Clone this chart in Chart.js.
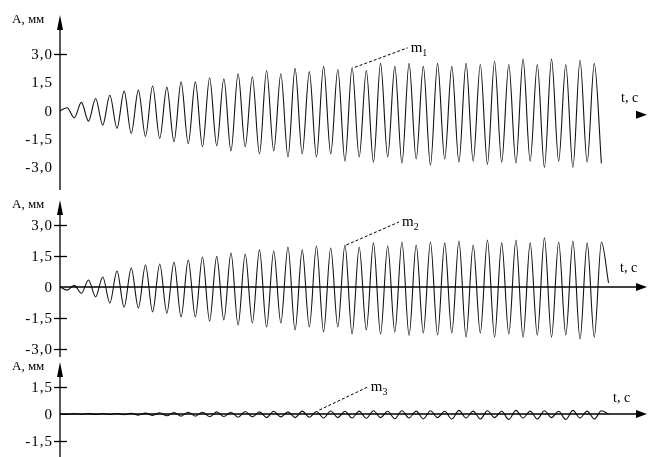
<!DOCTYPE html>
<html>
<head>
<meta charset="utf-8">
<script src="https://cdn.jsdelivr.net/npm/chart.js@4.4.1/dist/chart.umd.min.js"></script>
<style>
  html, body { margin: 0; padding: 0; background: #fff; }
  #wrap { position: relative; width: 648px; height: 457px; overflow: hidden; }
  canvas { position: absolute; left: 0; }
</style>
</head>
<body>
<div id="wrap">
  <canvas id="g1" width="648" height="190" style="top:0px"></canvas>
  <canvas id="g2" width="648" height="167" style="top:190px"></canvas>
  <canvas id="g3" width="648" height="100" style="top:357px"></canvas>
</div>
<script>
// шаг по времени между соседними экстремумами
const T_STEP = 0.05;

// m1: максимумы и минимумы колебаний
const peaks1 = [0.16, 0.44, 0.65, 0.82, 1.04, 1.09, 1.31, 1.25, 1.53, 1.53,
  1.75, 1.69, 1.96, 1.80, 2.13, 1.96, 2.24, 2.07, 2.35, 2.18,
  2.29, 2.13, 2.51, 2.35, 2.51, 2.35, 2.51, 2.35, 2.51, 2.45,
  2.62, 2.45, 2.73, 2.45, 2.73, 2.45, 2.67, 2.51];
const troughs1 = [-0.38, -0.55, -0.76, -0.93, -1.2, -1.36, -1.47, -1.64, -1.75, -1.91,
  -1.85, -2.13, -1.91, -2.29, -2.13, -2.45, -2.29, -2.45, -2.29, -2.67,
  -2.45, -2.73, -2.45, -2.78, -2.56, -2.89, -2.56, -2.73, -2.67, -2.84,
  -2.73, -2.78, -2.67, -3.0, -2.67, -3.0, -2.73, -2.78];

// m2
const troughs2 = [-0.15, -0.3, -0.48, -0.77, -0.97, -1.01, -1.2, -1.26, -1.45, -1.45,
  -1.65, -1.59, -1.84, -1.74, -1.93, -1.74, -2.08, -1.93, -2.17, -1.93,
  -2.27, -2.08, -2.27, -2.17, -2.34, -2.22, -2.32, -2.22, -2.42, -2.22,
  -2.42, -2.27, -2.42, -2.32, -2.42, -2.32, -2.51, -2.42];
const peaks2 = [0.08, 0.34, 0.48, 0.77, 0.92, 1.06, 1.11, 1.21, 1.3, 1.45,
  1.48, 1.64, 1.59, 1.79, 1.74, 1.93, 1.79, 1.98, 1.88, 2.03,
  1.93, 2.13, 1.98, 2.17, 2.03, 2.17, 2.13, 2.22, 2.03, 2.27,
  2.13, 2.27, 2.13, 2.37, 2.17, 2.22, 2.13, 2.17];

// m3
const troughs3 = [-0.02, -0.02, -0.03, -0.03, -0.04, -0.06, -0.08, -0.1, -0.12, -0.12,
  -0.15, -0.14, -0.18, -0.15, -0.2, -0.16, -0.2, -0.18, -0.22, -0.2,
  -0.22, -0.24, -0.2, -0.26, -0.22, -0.27, -0.2, -0.28, -0.22, -0.28,
  -0.2, -0.3, -0.22, -0.28, -0.2, -0.3, -0.22, -0.28];
const peaks3 = [0.02, 0.02, 0.03, 0.03, 0.04, 0.05, 0.07, 0.08, 0.1, 0.1,
  0.12, 0.1, 0.14, 0.12, 0.15, 0.12, 0.16, 0.14, 0.17, 0.15,
  0.16, 0.18, 0.15, 0.18, 0.16, 0.18, 0.15, 0.2, 0.16, 0.18,
  0.15, 0.2, 0.16, 0.18, 0.15, 0.2, 0.16, 0.18];

// подписи делений
const ticksBig = [-3, -1.5, 0, 1.5, 3];
const ticksBigText = ['-3,0', '-1,5', '0', '1,5', '3,0'];
const ticksSmall = [-1.5, 0, 1.5];
const ticksSmallText = ['-1,5', '0', '1,5'];

const yTitle = 'A, мм';
const xTitle = 't, с';

// чередуем экстремумы, начиная с нуля
function buildSeries(first, second, tail) {
  const pts = [{ x: 0, y: 0 }];
  let i = 1;
  for (let k = 0; k < first.length; k++) {
    pts.push({ x: i++ * T_STEP, y: first[k] });
    pts.push({ x: i++ * T_STEP, y: second[k] });
  }
  tail.forEach(v => pts.push({ x: i++ * T_STEP, y: v }));
  return pts;
}

const serif = '"Liberation Serif", "Times New Roman", serif';

// оси со стрелками, деления, подписи и выноски
const sketchAxes = {
  id: 'sketchAxes',
  afterDraw(chart, args, o) {
    const { ctx, chartArea: a, scales: { x, y } } = chart;
    const x0 = a.left;
    const yz = y.getPixelForValue(0);
    ctx.save();
    ctx.strokeStyle = '#000';
    ctx.fillStyle = '#000';
    ctx.lineWidth = 1.3;

    ctx.beginPath();
    ctx.moveTo(x0, a.top + 6);
    ctx.lineTo(x0, a.bottom);
    ctx.stroke();
    ctx.beginPath();
    ctx.moveTo(x0, a.top);
    ctx.lineTo(x0 - 3, a.top + 15);
    ctx.lineTo(x0 + 3, a.top + 15);
    ctx.closePath();
    ctx.fill();

    o.crosses.forEach(v => {
      const py = Math.round(y.getPixelForValue(v)) + 0.5;
      ctx.beginPath();
      ctx.moveTo(x0 - 6, py);
      ctx.lineTo(x0 + 7, py);
      ctx.stroke();
    });

    // подписи делений оси ординат
    ctx.font = '15px ' + serif;
    ctx.letterSpacing = '1px';
    ctx.textAlign = 'right';
    ctx.textBaseline = 'middle';
    o.ticks.forEach((v, i) => {
      ctx.fillText(o.tickText[i], x0 - 7, y.getPixelForValue(v) + 1);
    });
    ctx.letterSpacing = '0px';

    if (o.xLine) {
      ctx.beginPath();
      ctx.moveTo(x0, yz);
      ctx.lineTo(a.right - 8, yz);
      ctx.stroke();
    }
    const ay = yz + o.arrowDy;
    ctx.beginPath();
    ctx.moveTo(a.right, ay);
    ctx.lineTo(a.right - 11, ay - 4);
    ctx.lineTo(a.right - 11, ay + 4);
    ctx.closePath();
    ctx.fill();

    ctx.font = '13px ' + serif;
    ctx.textAlign = 'left';
    ctx.textBaseline = 'alphabetic';
    ctx.fillText(yTitle, 12, a.top + 8);
    ctx.font = '14px ' + serif;
    ctx.fillText(xTitle, o.xTitleX, yz + o.xTitleDy);

    const m = o.lead;
    const p0 = [x.getPixelForValue(m.from[0]), y.getPixelForValue(m.from[1])];
    const p1 = [x.getPixelForValue(m.to[0]), y.getPixelForValue(m.to[1])];
    ctx.lineWidth = 1;
    ctx.setLineDash([3, 2]);
    ctx.beginPath();
    ctx.moveTo(p0[0], p0[1]);
    ctx.lineTo(p1[0], p1[1]);
    ctx.stroke();
    ctx.setLineDash([]);
    ctx.font = '15px ' + serif;
    ctx.fillText('m', p1[0] + 3, p1[1] + 4);
    const mw = ctx.measureText('m').width;
    ctx.font = '10px ' + serif;
    ctx.fillText(m.sub, p1[0] + 3 + mw, p1[1] + 8);
    ctx.restore();
  }
};

function makeChart(id, data, yMin, yMax, padTop, opts) {
  return new Chart(document.getElementById(id), {
    type: 'line',
    data: {
      datasets: [{
        data: data,
        borderColor: '#111',
        borderWidth: 1.1,
        pointRadius: 0,
        tension: 0.4,
        cubicInterpolationMode: 'monotone',
        fill: false
      }]
    },
    options: {
      responsive: false,
      animation: false,
      devicePixelRatio: 1,
      layout: { padding: { top: padTop, right: 1, bottom: 0, left: 60 } },
      plugins: {
        legend: { display: false },
        tooltip: { enabled: false },
        sketchAxes: opts
      },
      scales: {
        x: { type: 'linear', min: 0, max: 4.12, display: false },
        y: { type: 'linear', min: yMin, max: yMax, display: false }
      }
    },
    plugins: [sketchAxes]
  });
}

makeChart('g1', buildSeries(peaks1, troughs1, []), -4.2, 5.07, 15, {
  ticks: ticksBig, tickText: ticksBigText,
  crosses: [3], xLine: false, arrowDy: 4, xTitleX: 621, xTitleDy: -9,
  lead: { from: [2.07, 2.3], to: [2.44, 3.33], sub: '1' }
});

makeChart('g2', buildSeries(troughs2, peaks2, [0.2]), -3.38, 4.2, 10, {
  ticks: ticksBig, tickText: ticksBigText,
  crosses: [-3, -1.5, 1.5, 3], xLine: true, arrowDy: 0, xTitleX: 620, xTitleDy: -15,
  lead: { from: [2.01, 2.03], to: [2.38, 3.14], sub: '2' }
});

makeChart('g3', buildSeries(troughs3, peaks3, [0]), -2.39, 2.89, 5, {
  ticks: ticksSmall, tickText: ticksSmallText,
  crosses: [-1.5, 1.5], xLine: true, arrowDy: 0, xTitleX: 613, xTitleDy: -12,
  lead: { from: [1.82, 0.22], to: [2.16, 1.5], sub: '3' }
});
</script>
</body>
</html>
